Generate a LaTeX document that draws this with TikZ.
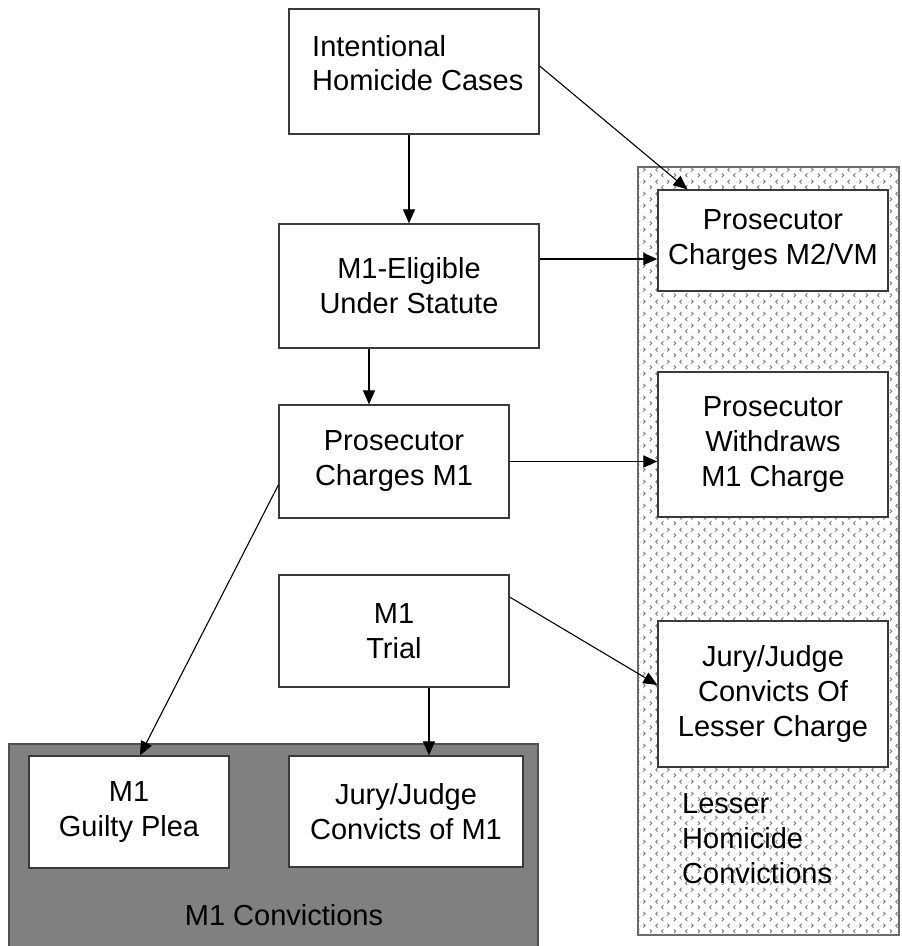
\documentclass[tikz,border=0pt]{standalone}
\usepackage{fontspec}
\setmainfont{Liberation Sans}
\usetikzlibrary{arrows.meta,patterns,calc}

% small alternating chevrons used as the fill of the lesser-convictions group
\pgfdeclarepatternformonly{chevrons}{\pgfpointorigin}{\pgfqpoint{24pt}{12pt}}{\pgfqpoint{24pt}{12pt}}{%
  \pgfsetlinewidth{0.9pt}%
  % row 1: ">" then "<"
  \pgfpathmoveto{\pgfqpoint{2pt}{5pt}}\pgfpathlineto{\pgfqpoint{4pt}{3pt}}\pgfpathlineto{\pgfqpoint{2pt}{1pt}}%
  \pgfpathmoveto{\pgfqpoint{16pt}{5pt}}\pgfpathlineto{\pgfqpoint{14pt}{3pt}}\pgfpathlineto{\pgfqpoint{16pt}{1pt}}%
  % row 2, shifted half a column: "<" then ">"
  \pgfpathmoveto{\pgfqpoint{10pt}{11pt}}\pgfpathlineto{\pgfqpoint{8pt}{9pt}}\pgfpathlineto{\pgfqpoint{10pt}{7pt}}%
  \pgfpathmoveto{\pgfqpoint{20pt}{11pt}}\pgfpathlineto{\pgfqpoint{22pt}{9pt}}\pgfpathlineto{\pgfqpoint{20pt}{7pt}}%
  \pgfusepath{stroke}%
}

\definecolor{boxline}{HTML}{3A3A3A}
\definecolor{groupgray}{HTML}{808080}
\definecolor{groupline}{HTML}{505050}
\definecolor{hatchline}{HTML}{6A6A6A}
\definecolor{chev}{HTML}{7A7A7A}

\tikzset{
  stagebox/.style={draw=boxline, line width=1.3pt, fill=white, inner sep=0pt,
    align=center, font=\fontsize{29}{35}\selectfont},
  arr/.style={-{Triangle[length=14pt,width=12pt]}, line width=1.1pt, black},
  grouplabel/.style={font=\fontsize{29}{35}\selectfont, inner sep=0pt}
}

\begin{document}
\begin{tikzpicture}[x=1pt,y=-1pt]
\useasboundingbox (0,0) rectangle (902,946);

% groups
\fill[pattern=chevrons, pattern color=chev] (638,167) rectangle (899,935);
\draw[hatchline, line width=1.5pt] (638,167) rectangle (899,935);
\draw[groupline, fill=groupgray, line width=1.5pt] (9,744) rectangle (538,952);

% stages
\node[stagebox, minimum width=250pt, minimum height=125pt] (int) at (414,71.5) {};
\node[anchor=north west, align=left, inner sep=0pt, font=\fontsize{29}{34}\selectfont]
  (inttext) at (312,35) {Intentional\\Homicide Cases};
\node[stagebox, minimum width=260pt, minimum height=124pt] (elig) at (409,286) {M1-Eligible\\Under Statute};
\node[stagebox, minimum width=230pt, minimum height=101pt] (m2vm) at (773,240.5) {Prosecutor\\Charges M2/VM};
\node[stagebox, minimum width=230pt, minimum height=113pt] (pm1) at (394,461.5) {Prosecutor\\Charges M1};
\node[stagebox, minimum width=230pt, minimum height=145pt] (wd) at (773,444.5) {Prosecutor\\Withdraws\\M1 Charge};
\node[stagebox, minimum width=230pt, minimum height=112pt] (trial) at (394,631) {M1\\Trial};
\node[stagebox, minimum width=230pt, minimum height=146pt] (jl) at (773,694) {Jury/Judge\\Convicts Of\\Lesser Charge};
\node[stagebox, minimum width=200pt, minimum height=112pt] (gp) at (129,812) {M1\\Guilty Plea};
\node[stagebox, minimum width=234pt, minimum height=111pt] (jm1) at (406,811.5) {Jury/Judge\\Convicts of M1};

% group labels
\node[grouplabel] (m1conv) at (284,915) {M1 Convictions};
\node[grouplabel, anchor=north west, align=left] (lesser) at (682,793) {Lesser\\Homicide\\Convictions};

% connectors
\draw[arr] (int.south -| elig.north) -- (elig.north);
\draw[arr] ([yshift=5.5pt]int.east) -- ([xshift=30pt]m2vm.north west);
\draw[arr] ([yshift=27pt]elig.east) -- ([yshift=27pt]elig.east -| m2vm.west);
\draw[arr] ([xshift=-40pt]elig.south) -- ([xshift=-40pt]elig.south |- pm1.north);
\draw[arr] (pm1.east) -- (pm1.east -| wd.west);
\draw[arr] ([yshift=-23.5pt]pm1.west) -- ([xshift=11pt]gp.north);
\draw[arr] ([yshift=34pt]trial.east) -- ([yshift=9pt]jl.west);
\draw[arr] ([xshift=35pt]trial.south) -- ([xshift=35pt]trial.south |- jm1.north);
\end{tikzpicture}
\end{document}
